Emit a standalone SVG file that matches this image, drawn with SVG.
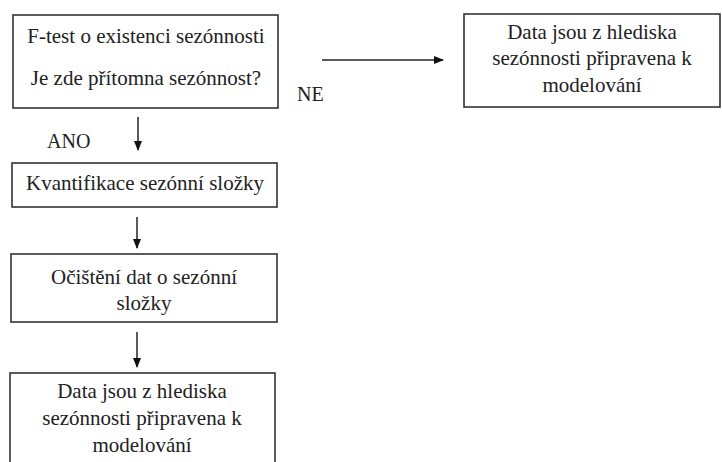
<svg xmlns="http://www.w3.org/2000/svg" width="722" height="462" viewBox="0 0 722 462">
<defs>
<marker id="ah" markerWidth="10" markerHeight="10" refX="9" refY="5" orient="auto" markerUnits="userSpaceOnUse">
<path d="M0,1 L10,5 L0,9 Z" fill="#111"/>
</marker>
<style>
.box{fill:#fff;stroke:#333;stroke-width:1.6}
.c{stroke:#222;stroke-width:1.5;fill:none;marker-end:url(#ah)}
text{font-family:'Liberation Serif','DejaVu Serif',serif;font-size:21px;fill:#222}
.m{text-anchor:middle}
</style>
</defs>
<rect width="722" height="462" fill="#fff"/>
<g id="n1">
<rect class="box" x="13" y="15" width="265" height="93"/>
<text class="m" x="146" y="43">F-test o existenci sezónnosti</text>
<text class="m" x="146" y="85">Je zde přítomna sezónnost?</text>
</g>
<g id="n2">
<rect class="box" x="464" y="14" width="256" height="93"/>
<text class="m" x="592" y="39">Data jsou z hlediska</text>
<text class="m" x="592" y="65">sezónnosti připravena k</text>
<text class="m" x="592" y="92">modelování</text>
</g>
<g id="n3">
<rect class="box" x="12" y="163" width="265" height="44"/>
<text class="m" x="145" y="190">Kvantifikace sezónní složky</text>
</g>
<g id="n4">
<rect class="box" x="11" y="254" width="266" height="68"/>
<text class="m" x="144" y="284">Očištění dat o sezónní</text>
<text class="m" x="144" y="310">složky</text>
</g>
<g id="n5">
<rect class="box" x="10" y="373" width="265" height="100"/>
<text class="m" x="142" y="398">Data jsou z hlediska</text>
<text class="m" x="142" y="425">sezónnosti připravena k</text>
<text class="m" x="142" y="452">modelování</text>
</g>
<g id="connectors">
<line class="c" x1="322" y1="60" x2="443" y2="60"/>
<line class="c" x1="138" y1="117" x2="138" y2="150"/>
<line class="c" x1="137" y1="217" x2="137" y2="248"/>
<line class="c" x1="137" y1="332" x2="137" y2="367"/>
<text x="297" y="101" style="font-size:20px">NE</text>
<text x="47" y="148" style="font-size:20px">ANO</text>
</g>
</svg>
